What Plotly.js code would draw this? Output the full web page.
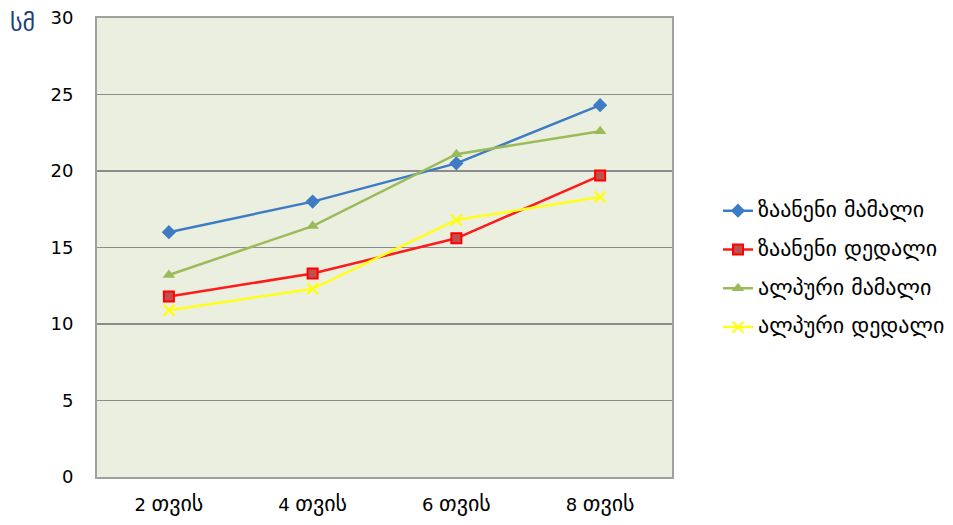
<!DOCTYPE html>
<html><head><meta charset="utf-8">
<script src="https://cdn.plot.ly/plotly-3.0.1.min.js"></script>
<style>body{margin:0;background:#fff}#c{width:953px;height:525px}</style>
</head><body><div id="c"></div>
<script>
const monthNums = ["2", "4", "6", "8"];
const monthWord = "თვის";
const categories = monthNums.map(n => n + " " + monthWord);
const seriesNames = ["ზაანენი მამალი", "ზაანენი დედალი", "ალპური მამალი", "ალპური დედალი"];
const zaanenMale = [16.0, 18.0, 20.5, 24.3];
const zaanenFemale = [11.8, 13.3, 15.6, 19.7];
const alpineMale = [13.2, 16.4, 21.1, 22.6];
const alpineFemale = [10.9, 12.3, 16.8, 18.3];
const yTicks = [0, 5, 10, 15, 20, 25, 30];

const font = "DejaVu Sans, Verdana, sans-serif";
const geo = s => '<span style="font-size:22px">' + s + '</span>';
const traces = [
  {y: zaanenMale, name: seriesNames[0], line:{color:"#3D7CC4", width:2.5},
   marker:{symbol:"diamond", size:11, color:"#3D7CC4"}},
  {y: zaanenFemale, name: seriesNames[1], line:{color:"#FF1A1A", width:2.5},
   marker:{symbol:"square", size:10, color:"#C0504D", line:{color:"#FF0000", width:2}}},
  {y: alpineMale, name: seriesNames[2], line:{color:"#9BBB59", width:2.5},
   marker:{symbol:"triangle-up", size:11, color:"#9BBB59"}},
  {y: alpineFemale, name: seriesNames[3], line:{color:"#FFFF1A", width:2.5},
   marker:{symbol:"x-thin-open", size:11, color:"#FFFF00", line:{color:"#FFFF00", width:2}}}
].map((t, i) => Object.assign({x: categories, type:"scatter", mode:"lines+markers",
    legendgroup:"g"+i}, t, {name: geo(t.name)}));

const layout = {
  width:953, height:525,
  margin:{l:97, r:281, t:18, b:48, autoexpand:false},
  paper_bgcolor:"#ffffff", plot_bgcolor:"#EBEFDF",
  font:{family:font, size:18, color:"#000"},
  showlegend:true,
  legend:{x:1.08, xanchor:"left", y:0.617, yanchor:"top", font:{family:font, size:16, color:"#000"},
          tracegroupgap:15, itemwidth:30, bgcolor:"rgba(0,0,0,0)"},
  xaxis:{type:"category", range:[-0.5,3.5], showgrid:false, zeroline:false,
         showline:true, linecolor:"#A0A0A0", linewidth:2, mirror:true,
         tickvals:categories, ticktext: monthNums.map(n => n + " " + geo(monthWord)),
         ticks:"", ticklabelstandoff:10, tickfont:{family:font, size:18}, fixedrange:true},
  yaxis:{range:[0,30], tickvals:yTicks, ticktext:yTicks.map(String), showgrid:true,
         gridcolor:"#8C8C8C", gridwidth:1.5, zeroline:false,
         showline:true, linecolor:"#A0A0A0", linewidth:2, mirror:true,
         ticks:"", ticklen:0, ticklabelstandoff:18, tickfont:{family:font, size:18}, fixedrange:true},
  annotations:[{text:"სმ", xref:"paper", yref:"paper", x:-0.13, y:0.99, xanchor:"center", yanchor:"middle",
                showarrow:false, font:{family:font, size:24, color:"#1F3F7A"}}]
};
Plotly.newPlot("c", traces, layout, {displayModeBar:false, staticPlot:true});
</script></body></html>
